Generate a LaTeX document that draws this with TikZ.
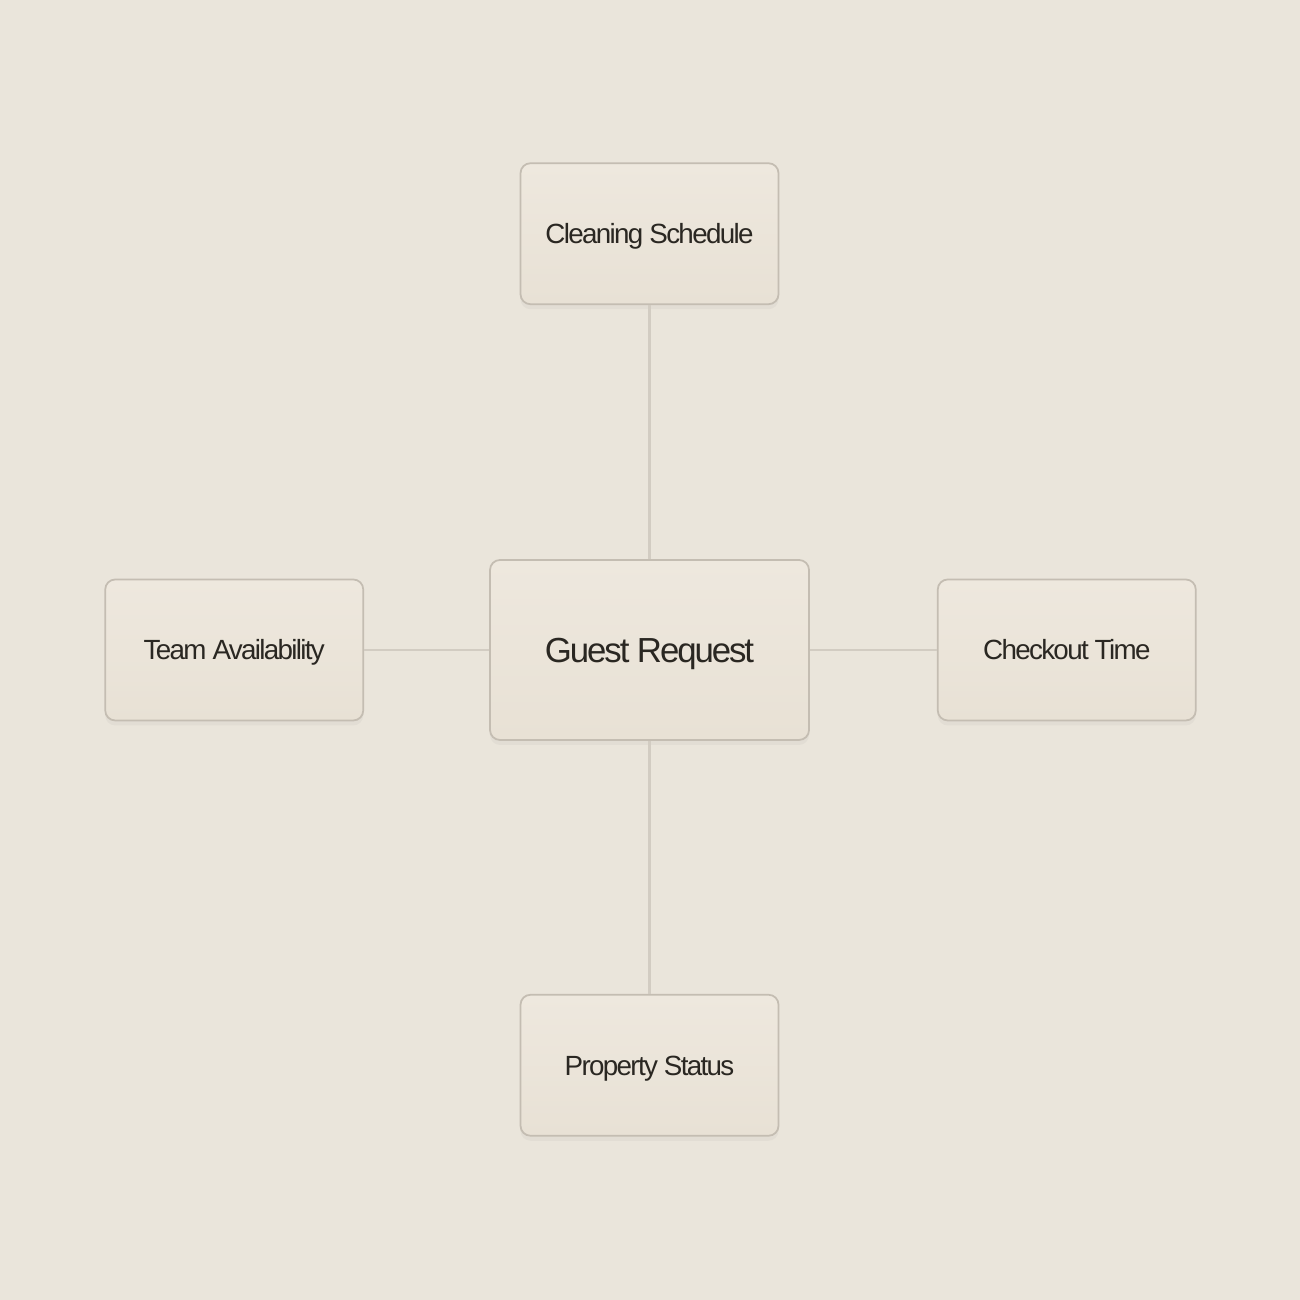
\documentclass[tikz,border=0pt]{standalone}
\usepackage{fontspec}
\setmainfont{Liberation Sans}[LetterSpace=-6]
\usetikzlibrary{positioning,shadows}
\definecolor{bgcol}{HTML}{EAE5DB}
\definecolor{boxtop}{HTML}{EEE8DE}
\definecolor{boxbot}{HTML}{E8E1D5}
\definecolor{boxline}{HTML}{C4BDB2}
\definecolor{linkcol}{HTML}{D2CCC2}
\definecolor{inkcol}{HTML}{2A2722}

\begin{document}
\begin{tikzpicture}
\tikzstyle{card}=[draw=boxline, line width=0.5pt, rounded corners=0.1cm,
  top color=boxtop, bottom color=boxbot, text=inkcol,
  drop shadow={opacity=0.07, shadow xshift=0cm, shadow yshift=-0.05cm},
  minimum width=2.58cm, minimum height=1.41cm, text height=5.66pt, text depth=0pt,
  font=\fontsize{7.9}{9}\selectfont]
\tikzstyle{link}=[draw=linkcol, line width=0.6pt]
	\useasboundingbox[fill=bgcol] (0,0) rectangle (13,13);
	\node[card, minimum width=3.19cm, minimum height=1.8cm, text height=7.1pt,
	  font=\fontsize{9.9}{11}\selectfont] (guest) at (6.495,6.5) {Guest Request};
	\node[card, above=2.54cm of guest] (clean) {Cleaning Schedule};
	\node[card, below=2.53cm of guest] (status) {Property Status};
	\node[card, left=1.25cm of guest] (team) {Team Availability};
	\node[card, right=1.27cm of guest] (checkout) {Checkout Time};

	\draw[link] (clean) -- (guest) ;
	\draw[link] (guest) -- (status) ;
	\draw[link] (team) -- (guest) ;
	\draw[link] (guest) -- (checkout) ;
\end{tikzpicture}
\end{document}
